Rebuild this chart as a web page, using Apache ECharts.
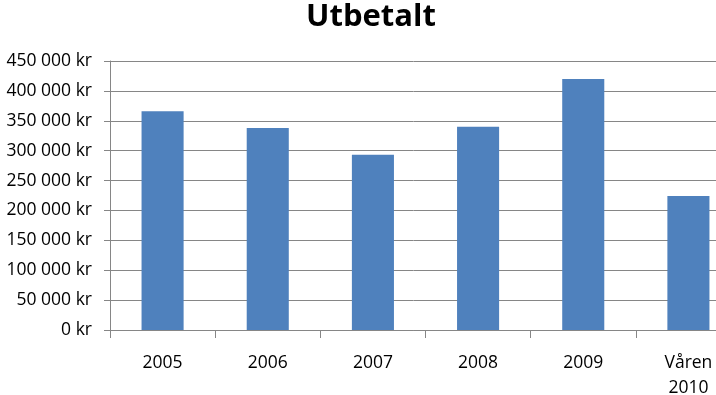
<!DOCTYPE html>
<html>
<head>
<meta charset="utf-8">
<script src="https://cdn.jsdelivr.net/npm/echarts@6/dist/echarts.min.js"></script>
<style>
html,body{margin:0;padding:0;background:#fff;}
#chart{width:716px;height:395px;}
</style>
</head>
<body>
<div id="chart"></div>
<script>
var categories = ["2005", "2006", "2007", "2008", "2009", "Våren\n2010"];
var values = [366000, 338000, 293000, 340000, 420000, 224000];
var titleText = "Utbetalt";

function fmtKr(v) {
  var s = String(v).replace(/\B(?=(\d{3})+(?!\d))/g, " ");
  return s + " kr";
}

var chart = echarts.init(document.getElementById("chart"));
chart.setOption({
  animation: false,
  backgroundColor: "#ffffff",
  title: {
    text: titleText,
    left: 366,
    textAlign: "center",
    top: -3,
    textStyle: { fontFamily: "Open Sans", fontWeight: "bold", fontSize: 31, color: "#000" }
  },
  grid: { left: 110, top: 61, bottom: 65, width: 631, containLabel: false, outerBoundsMode: "none" },
  xAxis: {
    type: "category",
    data: categories,
    axisLine: { lineStyle: { color: "#868686", width: 1 } },
    axisTick: { show: true, length: 8, alignWithLabel: false, lineStyle: { color: "#868686" } },
    axisLabel: { color: "#000", fontFamily: "Open Sans", fontSize: 17.5, margin: 21, lineHeight: 25, interval: 0 }
  },
  yAxis: {
    type: "value",
    min: 0,
    max: 450000,
    interval: 50000,
    axisLine: { show: true, lineStyle: { color: "#868686", width: 1 } },
    axisTick: { show: true, length: 6, lineStyle: { color: "#868686" } },
    splitLine: { lineStyle: { color: "#868686", width: 1 } },
    axisLabel: { color: "#000", fontFamily: "Open Sans", fontSize: 17.5, margin: 18, formatter: fmtKr }
  },
  series: [{
    type: "bar",
    data: values,
    barWidth: "40%",
    itemStyle: { color: "#4F81BD" }
  }]
});
</script>
</body>
</html>
